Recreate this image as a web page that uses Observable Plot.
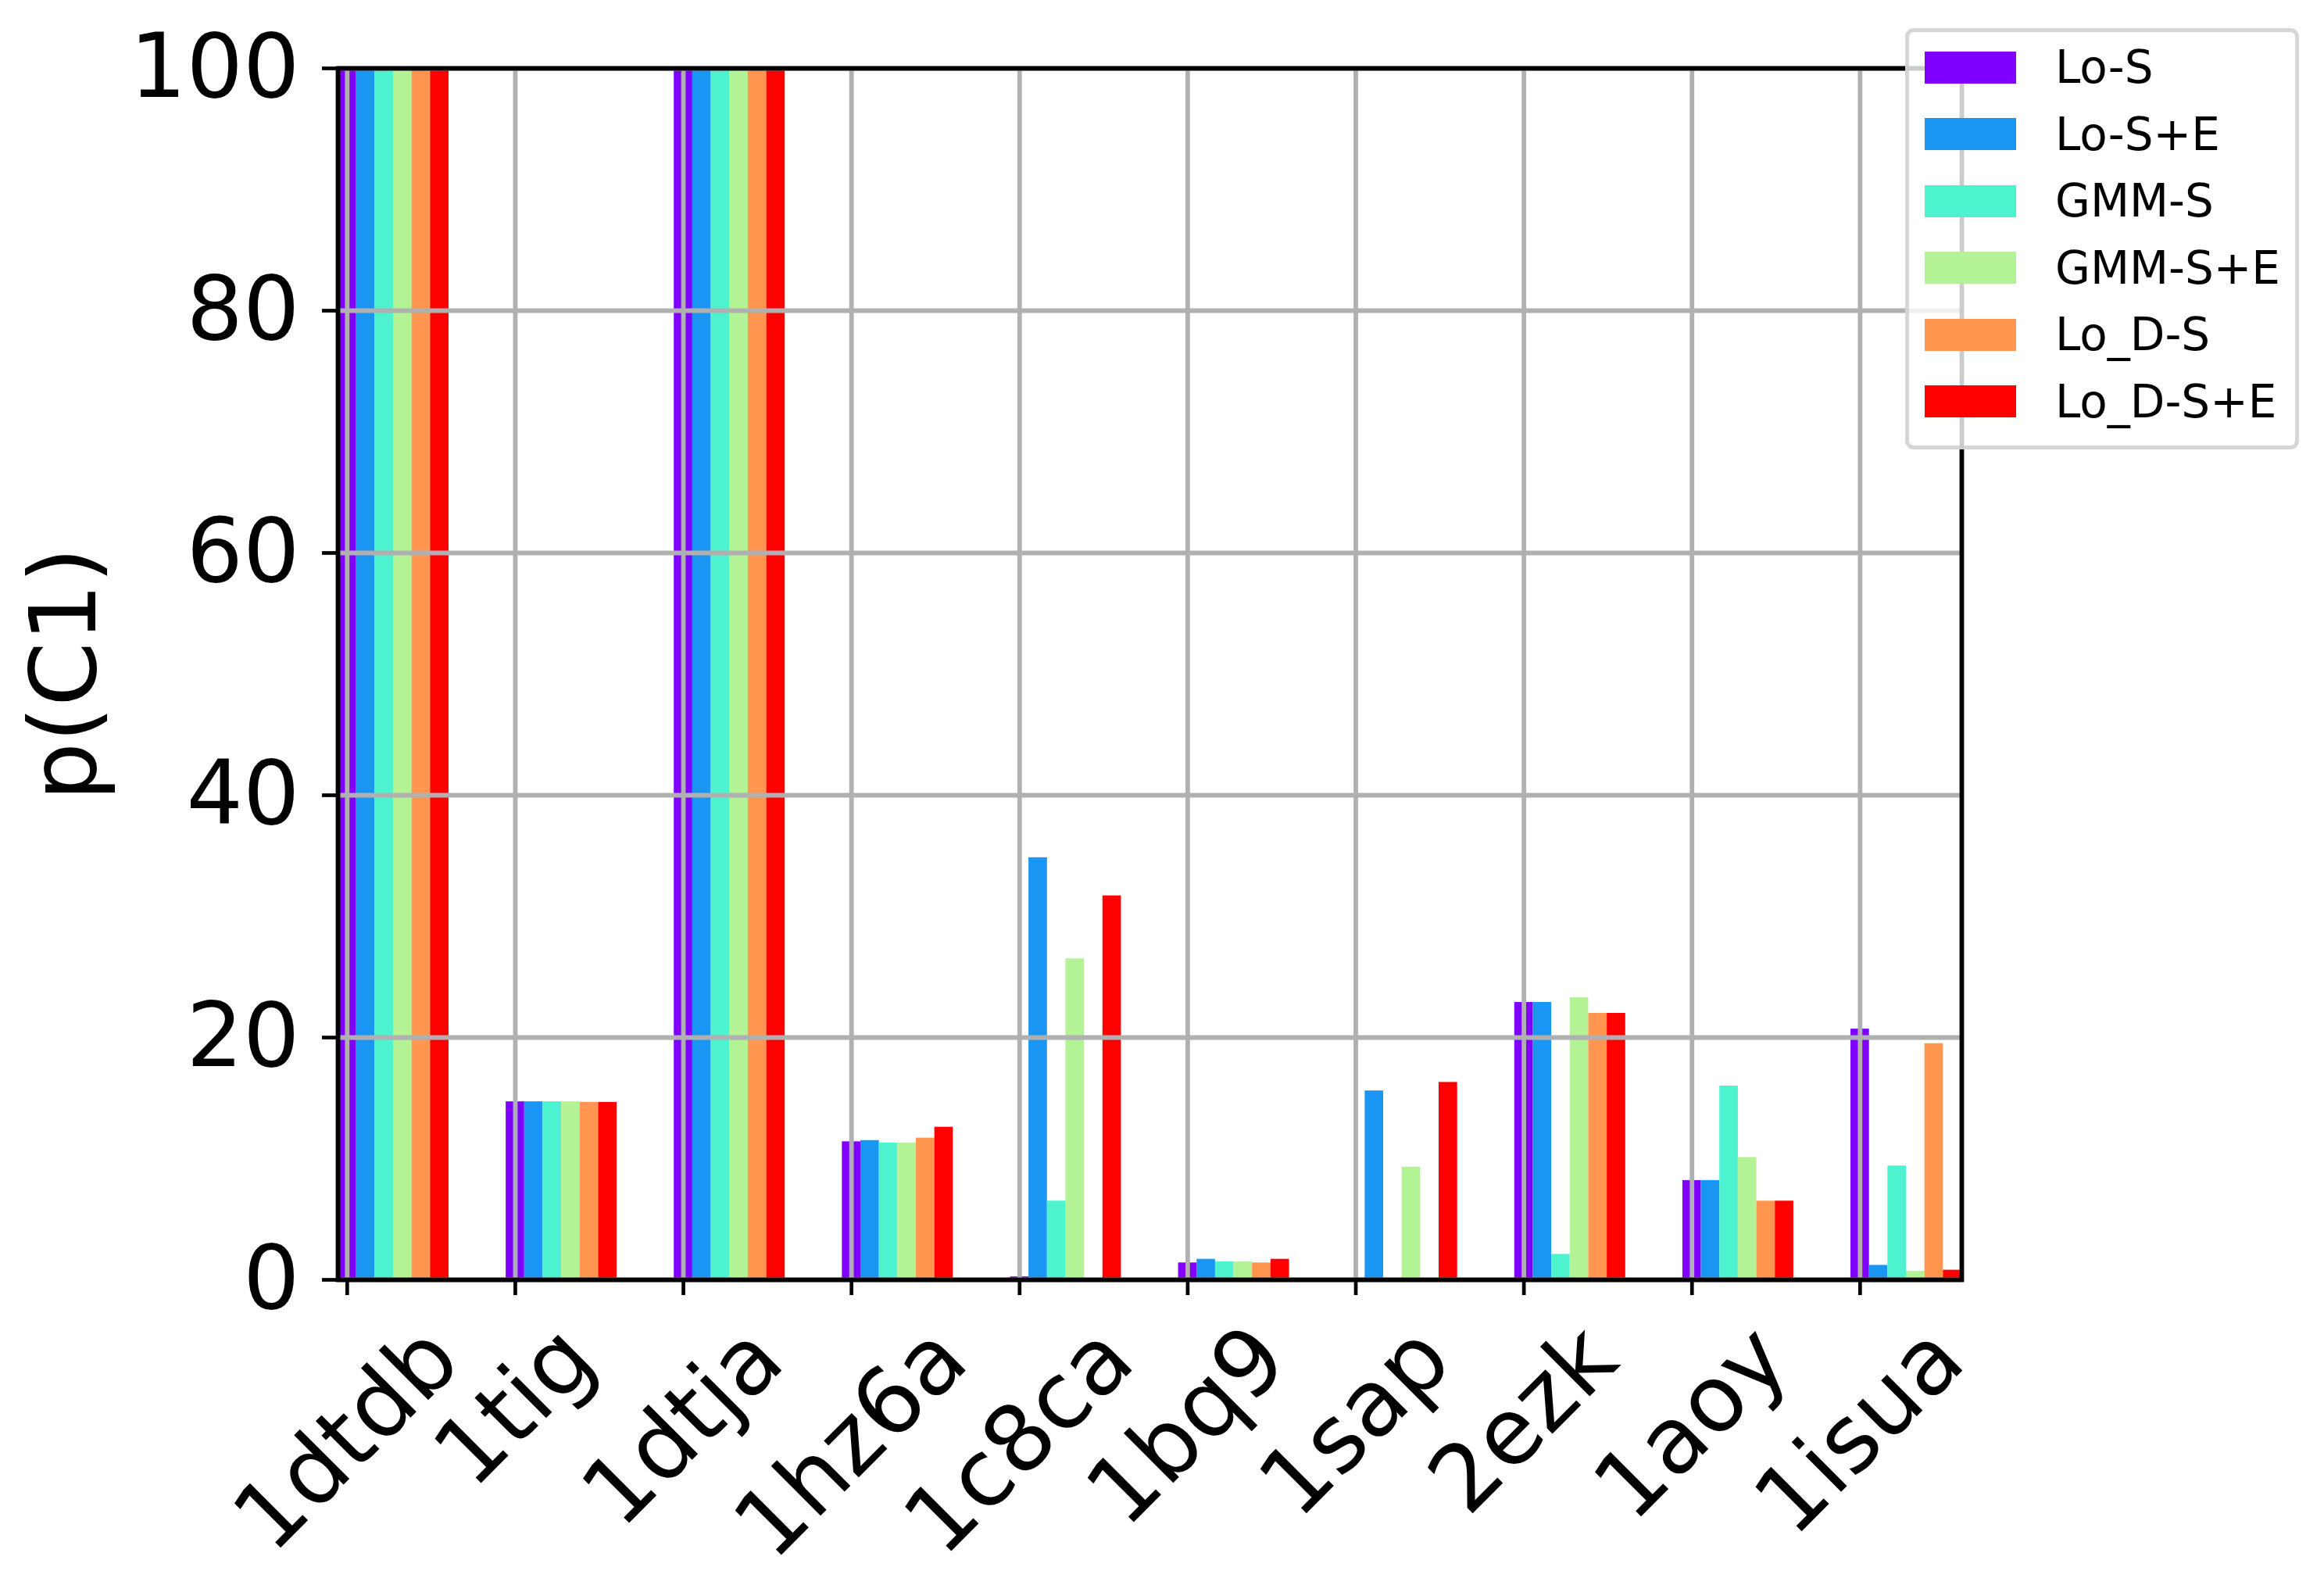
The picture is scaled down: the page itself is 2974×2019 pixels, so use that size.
<!DOCTYPE html>
<html>
<head>
<meta charset="utf-8">
<script src="https://cdn.jsdelivr.net/npm/d3@7"></script>
<script src="https://cdn.jsdelivr.net/npm/@observablehq/plot@0.6"></script>
<style>
  html, body { margin: 0; padding: 0; background: #fff; overflow: hidden; }
  #wrap { position: relative; width: 2974px; height: 2019px; font-family: "DejaVu Sans", sans-serif; }
  #legend { position: absolute; box-sizing: border-box; background: rgba(255,255,255,0.8);
            border: 5.5px solid rgba(204,204,204,0.8); border-radius: 11px; }
  .row { position: absolute; display: flex; align-items: center; }
  .sw { display: inline-block; }
  .lab { font-size: 58px; color: #000; white-space: nowrap; }
</style>
</head>
<body>
<div id="wrap"></div>
<script>
// ---- data ----
const categories = ["1dtdb", "1tig", "1dtja", "1hz6a", "1c8ca", "1bq9", "1sap", "2ezk", "1aoy", "1isua"];
const seriesNames = ["Lo-S", "Lo-S+E", "GMM-S", "GMM-S+E", "Lo_D-S", "Lo_D-S+E"];
const LoS      = [100, 14.7, 100, 11.4, 0.25, 1.4, 0,    22.9, 8.2,  20.7];
const LoSE     = [100, 14.7, 100, 11.5, 34.85, 1.7, 15.6, 22.9, 8.2,  1.2];
const GMMS     = [100, 14.7, 100, 11.3, 6.5,  1.5, 0,    2.1,  16.0, 9.4];
const GMMSE    = [100, 14.7, 100, 11.3, 26.5, 1.5, 9.3,  23.3, 10.1, 0.7];
const LoDS     = [100, 14.65, 100, 11.7, 0,   1.4, 0,    22.0, 6.5,  19.5];
const LoDSE    = [100, 14.65, 100, 12.6, 31.7, 1.7, 16.3, 22.0, 6.5,  0.8];
const seriesValues = [LoS, LoSE, GMMS, GMMSE, LoDS, LoDSE];
const colors = ["#8000ff", "#1a96f2", "#4df3ce", "#b3f396", "#ff964f", "#ff0000"];
const yTicks = [0, 20, 40, 60, 80, 100];
const yLabel = "p(C1)";

// ---- layout constants ----
const W = 0.11;            // bar width in category units
const FS = 118;            // x tick label font size
const YFS = 114;           // y tick label font size
const PAD = 33;            // x label padding below axis

const rows = seriesNames.flatMap((s, k) =>
  categories.map((c, i) => ({
    cat: c, series: s, value: seriesValues[k][i],
    x1: i + k * W - W / 2, x2: i + k * W + W / 2
  })));

const ctx = document.createElement("canvas").getContext("2d");
ctx.font = `${FS}px "DejaVu Sans"`;
const idx = d3.range(categories.length);

const xLabelMarks = categories.map((c, i) => Plot.text([{c, i}], {
  x: "i", text: "c", frameAnchor: "bottom",
  dy: PAD + (ctx.measureText(c).width + 1.164 * FS) * Math.SQRT1_2 / 2,
  rotate: -45, textAnchor: "middle", lineAnchor: "middle",
  fontSize: FS, fill: "black"
}));

const chart = Plot.plot({
  width: 2974, height: 2019,
  marginLeft: 432, marginRight: 464, marginTop: 87, marginBottom: 382,
  style: {fontFamily: "DejaVu Sans", color: "black", background: "white"},
  x: {type: "linear", domain: [-W / 2, categories.length - 1 + 5.5 * W]},
  y: {domain: [0, 100]},
  color: {domain: seriesNames, range: colors},
  marks: [
    Plot.rect(rows, {x1: "x1", x2: "x2", y1: 0, y2: "value", fill: "series", inset: 0, clip: true}),
    Plot.gridY({ticks: yTicks, stroke: "#b0b0b0", strokeOpacity: 1, strokeWidth: 5.8}),
    Plot.gridX({ticks: idx, stroke: "#b0b0b0", strokeOpacity: 1, strokeWidth: 5.8}),
    Plot.frame({stroke: "black", strokeWidth: 5.8}),
    Plot.axisY({ticks: yTicks, tickSize: 20, tickPadding: 29, fontSize: YFS, strokeWidth: 4.7, label: null, fill: "black"}),
    Plot.axisX({ticks: idx, tickSize: 20, tickFormat: () => "", strokeWidth: 4.7, label: null}),
    ...xLabelMarks,
    Plot.text([yLabel], {frameAnchor: "left", dx: -348, rotate: -90, textAnchor: "middle",
                         lineAnchor: "middle", fontSize: FS, fill: "black"})
  ]
});

const wrap = document.getElementById("wrap");
wrap.appendChild(chart);

// ---- legend (overlay, top right) ----
const legend = document.createElement("div");
legend.id = "legend";
Object.assign(legend.style, {left: "2438px", top: "36px", width: "504px", height: "539px"});
seriesNames.forEach((s, k) => {
  const row = document.createElement("div");
  row.className = "row";
  Object.assign(row.style, {left: "20px", top: (24.5 + k * 85.5) + "px", height: "41px"});
  const sw = document.createElement("span");
  sw.className = "sw";
  Object.assign(sw.style, {width: "117px", height: "41px", background: colors[k], marginRight: "50px"});
  const lab = document.createElement("span");
  lab.className = "lab";
  lab.textContent = s;
  row.appendChild(sw); row.appendChild(lab);
  legend.appendChild(row);
});
wrap.appendChild(legend);
</script>
</body>
</html>
